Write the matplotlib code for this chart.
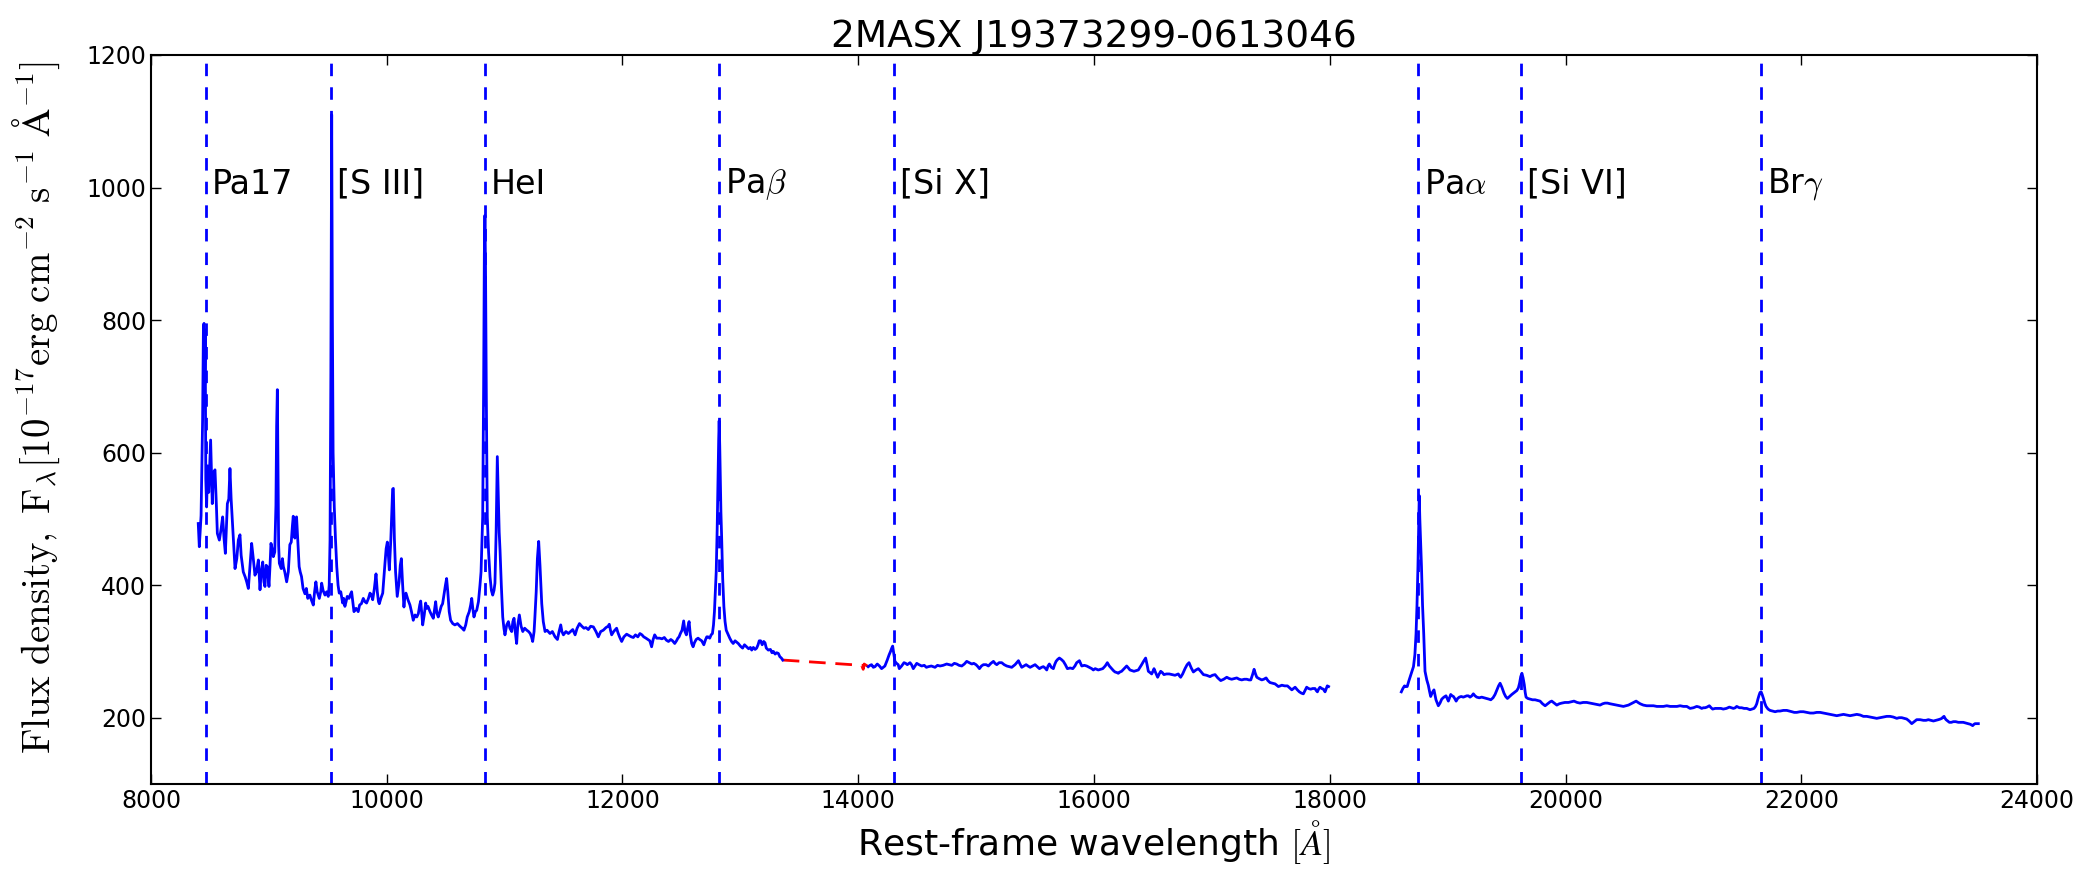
import numpy as np
import matplotlib
matplotlib.use('Agg')
import matplotlib.pyplot as plt

plt.rcParams['font.family'] = ['DejaVu Sans']
plt.rcParams['mathtext.fontset'] = 'cm'
plt.rcParams['xtick.direction'] = 'in'
plt.rcParams['ytick.direction'] = 'in'

# spectrum, (wavelength [A], flux)
seg1 = [(8401, 493), (8410, 458), (8425, 505), (8438, 650), (8445, 790), (8450, 795), (8455, 700),
        (8460, 785), (8465, 560), (8472, 518), (8480, 580), (8490, 540), (8506, 619), (8520, 523),
        (8530, 570), (8543, 574), (8555, 520), (8563, 478), (8580, 468), (8595, 485), (8608, 503),
        (8620, 470), (8631, 448), (8648, 523), (8660, 530), (8670, 576), (8680, 530), (8693, 488),
        (8713, 425), (8728, 440), (8741, 468), (8755, 476), (8765, 445), (8783, 420), (8800, 412),
        (8812, 405), (8826, 395), (8840, 430), (8854, 463), (8868, 440), (8882, 415), (8895, 420),
        (8911, 438), (8925, 393), (8935, 420), (8948, 435), (8958, 405), (8967, 398), (8977, 430),
        (8987, 428), (9001, 398), (9010, 430), (9018, 463), (9028, 455), (9038, 443), (9050, 450),
        (9060, 520), (9066, 640), (9072, 695), (9078, 560), (9083, 460), (9089, 433), (9105, 425),
        (9115, 440), (9123, 428), (9135, 420), (9151, 405), (9165, 420), (9178, 461), (9190, 465),
        (9200, 490), (9207, 504), (9214, 480), (9221, 471), (9228, 500), (9235, 503), (9245, 470),
        (9257, 428), (9266, 420), (9277, 413), (9290, 395), (9306, 387), (9318, 395), (9330, 380),
        (9348, 385), (9360, 378), (9377, 370), (9388, 390), (9399, 405), (9410, 390), (9428, 380),
        (9440, 390), (9448, 403), (9460, 392), (9476, 385), (9490, 390), (9504, 383), (9512, 400),
        (9519, 468), (9526, 720), (9533, 1110), (9539, 800), (9545, 600), (9555, 518), (9565, 470),
        (9576, 428), (9587, 400), (9597, 388), (9610, 390), (9626, 373), (9635, 380), (9645, 368),
        (9655, 375), (9665, 383), (9680, 380), (9692, 386), (9702, 390), (9712, 375), (9722, 360),
        (9740, 365), (9758, 360), (9770, 370), (9785, 372), (9801, 380), (9815, 375), (9829, 373),
        (9845, 380), (9858, 388), (9870, 385), (9881, 378), (9895, 395), (9909, 417), (9920, 390),
        (9930, 375), (9937, 372), (9950, 380), (9966, 388), (9975, 410), (9985, 433), (9995, 455),
        (10005, 465), (10014, 445), (10022, 423), (10035, 470), (10050, 545), (10056, 546),
        (10065, 470), (10075, 420), (10089, 383), (10105, 405), (10115, 430), (10124, 440),
        (10135, 400), (10146, 367), (10155, 385), (10163, 388), (10180, 378), (10197, 370),
        (10210, 360), (10225, 347), (10240, 355), (10255, 352), (10268, 357), (10280, 370),
        (10288, 376), (10296, 360), (10305, 340), (10318, 355), (10330, 373), (10340, 365),
        (10350, 368), (10367, 360), (10380, 355), (10395, 350), (10405, 362), (10415, 375),
        (10425, 358), (10437, 352), (10450, 360), (10462, 368), (10474, 372), (10485, 385),
        (10498, 400), (10508, 410), (10518, 390), (10530, 360), (10542, 347), (10560, 342),
        (10578, 340), (10600, 342), (10621, 338), (10640, 335), (10655, 332), (10670, 340),
        (10683, 352), (10700, 360), (10712, 370), (10721, 380), (10730, 365), (10740, 352),
        (10752, 360), (10763, 362), (10778, 375), (10791, 400), (10800, 420), (10814, 503),
        (10822, 700), (10828, 900), (10833, 958), (10838, 880), (10845, 680), (10853, 503),
        (10864, 450), (10876, 413), (10888, 392), (10899, 385), (10910, 392), (10918, 403),
        (10928, 480), (10938, 594), (10946, 540), (10954, 480), (10961, 453), (10972, 400),
        (10984, 352), (10994, 335), (11003, 325), (11018, 340), (11032, 345), (11045, 335),
        (11060, 330), (11070, 345), (11080, 350), (11090, 330), (11102, 312), (11112, 340),
        (11125, 355), (11140, 338), (11154, 330), (11170, 335), (11188, 332), (11203, 330),
        (11217, 327), (11228, 322), (11238, 315), (11250, 330), (11257, 352), (11268, 390),
        (11278, 440), (11289, 466), (11300, 430), (11315, 372), (11328, 345), (11343, 330),
        (11360, 332), (11385, 327), (11405, 330), (11428, 322), (11448, 318), (11462, 330),
        (11476, 340), (11486, 330), (11499, 325), (11520, 330), (11541, 327), (11560, 330),
        (11578, 333), (11598, 325), (11615, 335), (11635, 342), (11655, 338), (11673, 335),
        (11690, 336), (11710, 333), (11730, 338), (11753, 337), (11775, 330), (11795, 322),
        (11815, 330), (11837, 332), (11860, 336), (11878, 338), (11888, 341), (11898, 332),
        (11908, 325), (11925, 330), (11940, 333), (11950, 335), (11962, 328), (11975, 322),
        (11993, 315), (12012, 322), (12035, 326), (12055, 324), (12075, 322), (12092, 321),
        (12110, 325), (12130, 322), (12148, 327), (12165, 325), (12180, 322), (12199, 320),
        (12215, 318), (12232, 316), (12247, 307), (12260, 318), (12273, 325), (12290, 320),
        (12315, 320), (12335, 319), (12355, 321), (12372, 317), (12390, 315), (12410, 318),
        (12425, 316), (12443, 312), (12458, 316), (12470, 320), (12480, 322), (12491, 327),
        (12505, 332), (12519, 346), (12530, 330), (12542, 325), (12552, 335), (12565, 345),
        (12575, 325), (12587, 312), (12599, 307), (12610, 313), (12625, 318), (12641, 320),
        (12655, 318), (12672, 316), (12690, 310), (12705, 318), (12715, 322), (12726, 322),
        (12740, 320), (12752, 325), (12763, 327), (12772, 340), (12780, 360), (12786, 383),
        (12795, 420), (12803, 483), (12810, 560), (12816, 620), (12820, 648), (12825, 610),
        (12830, 560), (12835, 510), (12841, 473), (12850, 410), (12860, 368), (12870, 345),
        (12880, 332), (12897, 325), (12910, 320), (12925, 315), (12939, 312), (12955, 316),
        (12968, 314), (12982, 312), (13000, 308), (13019, 305), (13035, 310), (13053, 307),
        (13070, 304), (13085, 306), (13096, 302), (13110, 306), (13125, 303), (13138, 305),
        (13150, 310), (13160, 316), (13172, 316), (13185, 310), (13198, 315), (13209, 313),
        (13220, 305), (13237, 302), (13255, 303), (13268, 298), (13280, 300), (13295, 296),
        (13308, 298), (13322, 297), (13335, 292), (13348, 290), (13359, 287)]

# red dashed bridge over the gap
gap = [(13359, 287), (14030, 279), (14042, 273), (14050, 281), (14085, 277)]

seg2 = [(14085, 277), (14100, 279), (14113, 280), (14128, 276), (14142, 277), (14161, 281),
        (14180, 278), (14198, 274), (14212, 276), (14226, 278), (14246, 287), (14262, 295),
        (14274, 300), (14284, 305), (14292, 308), (14300, 298), (14311, 285), (14325, 282),
        (14339, 280), (14348, 274), (14368, 278), (14388, 283), (14402, 282), (14416, 280),
        (14439, 283), (14452, 280), (14467, 274), (14482, 278), (14496, 282), (14515, 280),
        (14538, 278), (14560, 279), (14578, 276), (14595, 277), (14620, 278), (14651, 276),
        (14672, 279), (14694, 278), (14720, 279), (14750, 281), (14770, 280), (14793, 279),
        (14815, 282), (14835, 281), (14855, 279), (14878, 278), (14900, 281), (14920, 285),
        (14942, 283), (14963, 281), (14980, 282), (14999, 280), (15015, 277), (15028, 274),
        (15045, 278), (15062, 280), (15085, 280), (15104, 278), (15125, 282), (15147, 285),
        (15160, 282), (15175, 280), (15195, 283), (15217, 283), (15238, 280), (15260, 278),
        (15280, 277), (15302, 276), (15316, 278), (15330, 280), (15345, 283), (15359, 286),
        (15372, 281), (15387, 276), (15405, 278), (15424, 280), (15440, 278), (15458, 276),
        (15480, 278), (15500, 280), (15518, 277), (15537, 274), (15555, 276), (15570, 277),
        (15585, 275), (15599, 272), (15610, 278), (15621, 281), (15638, 276), (15655, 274),
        (15666, 280), (15678, 285), (15692, 288), (15706, 290), (15722, 288), (15740, 285),
        (15757, 280), (15774, 274), (15798, 275), (15820, 274), (15838, 278), (15853, 283),
        (15876, 286), (15896, 278), (15918, 279), (15938, 278), (15960, 276), (15981, 274),
        (15994, 272), (16010, 274), (16036, 272), (16055, 273), (16074, 274), (16095, 278),
        (16113, 283), (16130, 278), (16150, 274), (16165, 271), (16178, 269), (16195, 268),
        (16206, 267), (16220, 269), (16234, 270), (16255, 274), (16277, 278), (16292, 275),
        (16305, 272), (16322, 271), (16339, 270), (16358, 271), (16376, 272), (16390, 276),
        (16404, 280), (16420, 285), (16438, 290), (16450, 280), (16461, 270), (16476, 268),
        (16489, 266), (16500, 270), (16509, 274), (16525, 267), (16540, 261), (16553, 266),
        (16566, 270), (16580, 268), (16593, 265), (16615, 266), (16638, 266), (16662, 265),
        (16687, 264), (16700, 265), (16715, 266), (16725, 263), (16735, 261), (16752, 266),
        (16772, 274), (16790, 280), (16806, 283), (16825, 275), (16843, 269), (16865, 272),
        (16885, 274), (16905, 270), (16928, 265), (16955, 264), (16984, 262), (17005, 264),
        (17027, 265), (17050, 260), (17075, 256), (17100, 258), (17126, 261), (17148, 259),
        (17168, 258), (17190, 259), (17211, 260), (17232, 258), (17253, 257), (17275, 258),
        (17296, 258), (17315, 257), (17330, 257), (17345, 265), (17358, 273), (17370, 266),
        (17381, 261), (17400, 259), (17423, 257), (17440, 258), (17460, 260), (17475, 256),
        (17493, 253), (17515, 252), (17536, 251), (17550, 249), (17564, 247), (17580, 248),
        (17593, 249), (17618, 248), (17641, 248), (17660, 245), (17678, 242), (17692, 244),
        (17706, 246), (17725, 242), (17742, 239), (17760, 237), (17776, 236), (17790, 241),
        (17804, 246), (17820, 244), (17838, 243), (17855, 244), (17875, 244), (17885, 241),
        (17895, 239), (17905, 243), (17917, 246), (17932, 244), (17946, 243), (17960, 239),
        (17970, 244), (17979, 248), (17990, 247)]

seg3 = [(18607, 239), (18620, 244), (18634, 248), (18645, 247), (18657, 247), (18670, 255),
        (18683, 262), (18697, 270), (18710, 277), (18722, 295), (18732, 327), (18740, 370),
        (18748, 428), (18754, 490), (18759, 535), (18764, 500), (18770, 470), (18778, 428),
        (18787, 370), (18797, 327), (18808, 270), (18823, 257), (18836, 249), (18846, 240),
        (18856, 232), (18870, 238), (18884, 242), (18892, 235), (18901, 227), (18921, 218),
        (18935, 222), (18950, 228), (18968, 231), (18986, 233), (19006, 225), (19026, 235),
        (19038, 233), (19049, 232), (19060, 229), (19072, 225), (19085, 229), (19099, 231),
        (19115, 232), (19133, 231), (19148, 232), (19162, 233), (19176, 233), (19190, 231),
        (19205, 233), (19218, 236), (19232, 233), (19247, 231), (19268, 230), (19289, 231),
        (19310, 230), (19332, 229), (19350, 228), (19366, 227), (19385, 230), (19402, 235),
        (19418, 242), (19432, 248), (19445, 252), (19460, 246), (19478, 237), (19492, 232),
        (19507, 229), (19525, 232), (19544, 235), (19565, 238), (19587, 241), (19600, 245),
        (19610, 252), (19620, 262), (19630, 267), (19640, 260), (19650, 250), (19658, 238),
        (19665, 231), (19680, 229), (19699, 228), (19720, 227), (19742, 227), (19762, 226),
        (19784, 225), (19805, 221), (19827, 218), (19841, 220), (19855, 222), (19870, 224),
        (19883, 225), (19905, 222), (19926, 219), (19947, 221), (19968, 222), (19995, 223),
        (20025, 223), (20048, 224), (20072, 225), (20098, 223), (20123, 222), (20150, 223),
        (20180, 223), (20208, 222), (20236, 221), (20265, 220), (20293, 219), (20315, 221),
        (20335, 222), (20356, 222), (20378, 221), (20405, 220), (20434, 219), (20462, 218),
        (20491, 217), (20512, 218), (20534, 219), (20556, 221), (20576, 223), (20588, 224),
        (20599, 225), (20615, 223), (20633, 221), (20660, 219), (20689, 218), (20718, 218),
        (20746, 218), (20775, 217), (20802, 217), (20830, 217), (20859, 218), (20888, 217),
        (20915, 217), (20945, 217), (20972, 218), (21000, 217), (21029, 217), (21056, 214),
        (21085, 215), (21113, 217), (21135, 216), (21155, 214), (21170, 215), (21184, 215),
        (21200, 216), (21220, 218), (21235, 215), (21248, 213), (21270, 214), (21296, 214),
        (21318, 214), (21338, 213), (21365, 214), (21390, 216), (21408, 215), (21424, 214),
        (21440, 215), (21452, 217), (21475, 215), (21494, 215), (21515, 214), (21537, 214),
        (21552, 213), (21565, 212), (21582, 213), (21599, 214), (21612, 217), (21622, 221),
        (21632, 228), (21642, 234), (21650, 238), (21659, 239), (21668, 235), (21679, 229),
        (21690, 222), (21701, 217), (21718, 213), (21735, 211), (21756, 210), (21778, 209),
        (21800, 210), (21820, 210), (21848, 211), (21877, 211), (21900, 210), (21920, 209),
        (21940, 208), (21962, 208), (21990, 209), (22018, 209), (22045, 208), (22075, 207),
        (22103, 207), (22131, 208), (22160, 208), (22188, 207), (22215, 206), (22245, 205),
        (22272, 204), (22301, 203), (22330, 204), (22358, 205), (22386, 204), (22414, 203),
        (22442, 204), (22471, 205), (22500, 204), (22527, 202), (22555, 202), (22584, 201),
        (22612, 200), (22640, 199), (22668, 200), (22697, 201), (22725, 202), (22753, 202),
        (22780, 201), (22810, 199), (22830, 200), (22852, 200), (22873, 199), (22894, 198),
        (22915, 195), (22937, 191), (22958, 194), (22979, 197), (23008, 197), (23036, 196),
        (23058, 196), (23078, 197), (23100, 196), (23121, 195), (23142, 196), (23163, 197),
        (23180, 198), (23192, 199), (23203, 201), (23211, 202), (23220, 199), (23228, 197),
        (23242, 195), (23256, 193), (23273, 193), (23290, 194), (23310, 194), (23332, 193),
        (23352, 193), (23374, 193), (23395, 192), (23417, 191), (23435, 190), (23454, 188),
        (23465, 190), (23474, 191), (23490, 191), (23502, 191)]

line_names = ['Pa17', '[S III]', 'HeI', r'Pa$\beta$', '[Si X]', r'Pa$\alpha$', '[Si VI]', r'Br$\gamma$']
line_waves = [8467, 9531, 10830, 12818, 14300, 18751, 19620, 21655]

fig = plt.figure(figsize=(20.94, 8.73), dpi=100)
ax = fig.add_axes([0.0721, 0.102, 0.9007, 0.835])

g = np.array(gap)
ax.plot(g[:, 0], g[:, 1], color='r', ls='--', lw=2, dashes=(6, 3.5))
for seg in (seg1, seg2, seg3):
    s = np.array(seg)
    ax.plot(s[:, 0], s[:, 1], color='b', lw=2)

for name, w in zip(line_names, line_waves):
    ax.axvline(w, color='b', ls='--', lw=2, dashes=(4.5, 4))
    ax.text(w + 50, 1005, name, fontsize=24, va='center', ha='left')

ax.set_xlim(8000, 24000)
ax.set_ylim(100, 1200)
ax.set_xticks(np.arange(8000, 24001, 2000))
ax.set_yticks(np.arange(200, 1201, 200))
ax.tick_params(which='both', top=True, right=True, labelsize=17, length=7, width=1)
for sp in ax.spines.values():
    sp.set_linewidth(1.5)

ax.set_title('2MASX J19373299-0613046', fontsize=27)
ax.set_xlabel(r'Rest-frame wavelength $[\AA]$', fontsize=26)
ax.set_ylabel(r'$\rm{Flux\ density,\ F_{\lambda}[10^{-17}erg\ cm^{-2}\ s^{-1}\ \AA^{-1}]}$', fontsize=28)
ax.yaxis.set_label_coords(-0.047, 0.516)

fig.savefig('out.png', dpi=100)
